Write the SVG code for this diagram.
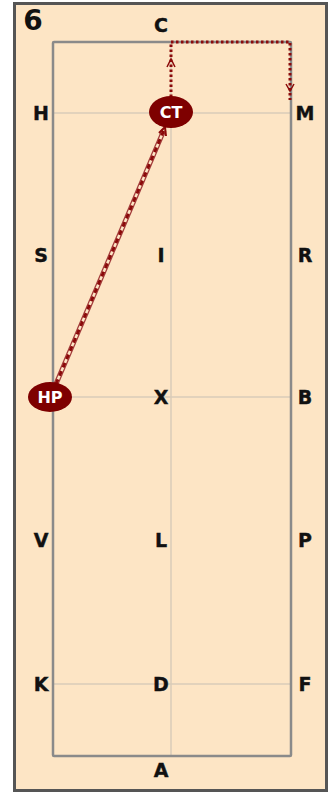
<svg xmlns="http://www.w3.org/2000/svg" width="333" height="793" viewBox="0 0 333 793">
<defs>
<style>
.lbl{font-family:"DejaVu Sans","Liberation Sans",sans-serif;font-weight:bold;font-size:19px;fill:#111;text-anchor:middle;dominant-baseline:central;stroke:#111;stroke-width:0.4}
.grid{stroke:#d9cbb8;stroke-width:1.5;fill:none}
.node{fill:#7e0000}
.ntxt{font-family:"DejaVu Sans","Liberation Sans",sans-serif;font-weight:bold;font-size:16px;fill:#fff;text-anchor:middle;dominant-baseline:central}
.dot{stroke:#8b0a0a;stroke-width:3;fill:none;stroke-dasharray:2.5 2.5}
</style>
</defs>
<rect x="14.5" y="3.5" width="312" height="787" fill="#fde5c5" stroke="#555" stroke-width="3"/>
<text x="33" y="20" font-family="DejaVu Sans,Liberation Sans,sans-serif" font-weight="bold" font-size="28" text-anchor="middle" dominant-baseline="central" fill="#111">6</text>
<g id="arena">
<line class="grid" x1="53" y1="113" x2="291" y2="113"/>
<line class="grid" x1="53" y1="397" x2="291" y2="397"/>
<line class="grid" x1="53" y1="684" x2="291" y2="684"/>
<line class="grid" x1="171" y1="42" x2="171" y2="756"/>
<rect x="53" y="42" width="238" height="714" fill="none" stroke="#8a8a8a" stroke-width="2.5" rx="1"/>
</g>
<g id="letters">
<text class="lbl" x="161" y="25">C</text>
<text class="lbl" x="41" y="113">H</text>
<text class="lbl" x="305" y="113">M</text>
<text class="lbl" x="41" y="255">S</text>
<text class="lbl" x="161" y="255">I</text>
<text class="lbl" x="305" y="255">R</text>
<text class="lbl" x="161" y="397">X</text>
<text class="lbl" x="305" y="397">B</text>
<text class="lbl" x="41" y="540">V</text>
<text class="lbl" x="161" y="540">L</text>
<text class="lbl" x="305" y="540">P</text>
<text class="lbl" x="41" y="684">K</text>
<text class="lbl" x="161" y="684">D</text>
<text class="lbl" x="305" y="684">F</text>
<text class="lbl" x="161" y="770">A</text>
</g>
<g id="connectors">
<path class="dot" d="M171,97 L171,42 L290,42 L290,100"/>
<path d="M167,67 L171,59 L175,67" fill="none" stroke="#8b0a0a" stroke-width="1.5"/>
<path d="M286,84 L290,91 L294,84" fill="none" stroke="#8b0a0a" stroke-width="1.5"/>
<line x1="56" y1="384" x2="164" y2="130" stroke="#a23a3a" stroke-width="5"/>
<line x1="56" y1="384" x2="164" y2="130" stroke="#fde5c5" stroke-width="2.5"/>
<line x1="56" y1="384" x2="164" y2="130" stroke="#8b0a0a" stroke-width="3" stroke-dasharray="5 4"/>
<path d="M159,133 L165,127 L166,136" fill="none" stroke="#8b0a0a" stroke-width="2"/>
</g>
<g id="CT">
<ellipse class="node" cx="171" cy="112" rx="22" ry="16"/>
<text class="ntxt" x="171" y="112">CT</text>
</g>
<g id="HP">
<ellipse class="node" cx="50" cy="397" rx="22" ry="15"/>
<text class="ntxt" x="50" y="397">HP</text>
</g>
</svg>
